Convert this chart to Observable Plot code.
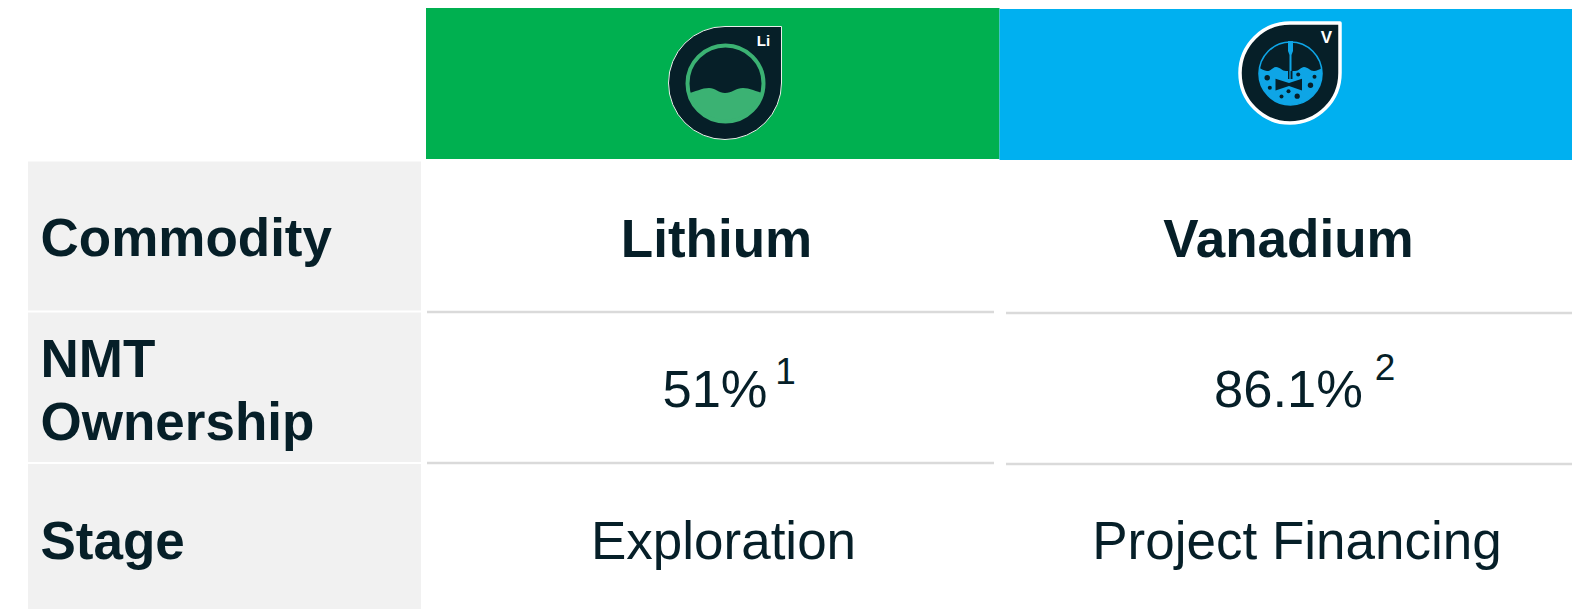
<!DOCTYPE html>
<html><head><meta charset="utf-8">
<script src="https://cdn.jsdelivr.net/npm/d3@7"></script>
<script src="https://cdn.jsdelivr.net/npm/@observablehq/plot@0.6"></script>
<style>html,body{margin:0;padding:0;background:#fff;overflow:hidden}svg{display:block}</style>
</head><body><div id="chart"></div>
<script>
// Table content
const commodities = ["Lithium", "Vanadium"];
const symbols = ["Li", "V"];
const rowLabels = ["Commodity", "NMT\nOwnership", "Stage"];
const ownership = ["51%", "86.1%"];
const footnotes = ["1", "2"];
const stages = ["Exploration", "Project Financing"];

// Layout (reference pixels, used as the domain of the x and y scales)
const W = 1572, H = 609;
const rowBands = [[161.5, 310.5], [312.5, 462], [464, 609]];
const headerBands = [{x1: 426, x2: 999.5, y1: 8, y2: 159, fill: "#00b050"}, {x1: 999.5, x2: 1572, y1: 9, y2: 160, fill: "#00b0f0"}];
const rules = [
  {x1: 427, x2: 994, y: 311.5}, {x1: 427, x2: 994, y: 462.5},
  {x1: 1006, x2: 1572, y: 312.5}, {x1: 1006, x2: 1572, y: 463.5}
];
const ink = "#061f28";
const font = "Liberation Sans, Arial, sans-serif";

const iconLi = `<svg xmlns="http://www.w3.org/2000/svg" viewBox="0 0 120 120">
<path d="M3.5 60 A56.5 56.5 0 0 1 60 3.5 H116.5 V60 A56.5 56.5 0 0 1 3.5 60 Z" fill="${ink}" stroke="#e8efe9" stroke-width="1"/>
<clipPath id="c"><circle cx="60.5" cy="60.5" r="38"/></clipPath>
<path clip-path="url(#c)" d="M18 72 C28 70 36 65 44 65 C50 65 54 70 60 70 C67 70 71 65 78 65 C86 65 94 70 104 72 V104 H18 Z" fill="#3bb273"/>
<circle cx="60.5" cy="60.5" r="38" fill="none" stroke="#3bb273" stroke-width="4"/>
</svg>`;
const iconV = `<svg xmlns="http://www.w3.org/2000/svg" viewBox="0 0 120 120">
<path d="M10 60 A50 50 0 0 1 60 10 H110 V60 A50 50 0 0 1 10 60 Z" fill="${ink}" stroke="#fff" stroke-width="3.5" stroke-linejoin="round"/>
<clipPath id="d"><circle cx="60.5" cy="60.5" r="31.5"/></clipPath>
<circle cx="60.5" cy="60.5" r="31.5" fill="none" stroke="#0ea5e6" stroke-width="1.6"/>
<path clip-path="url(#d)" d="M26 55 C30 54 33 58 37 58 C41 58 43 54 46 54 C50 54 52 58 56 58 L65 58 C69 58 71 54 74 54 C78 54 80 58 84 58 C88 58 90 55 96 55 V96 H26 Z" fill="#0ea5e6"/>
<path d="M58 28 H63 V38 L61.5 42 V60 H59.5 V42 L58 38 Z" fill="#0ea5e6"/>
<rect x="58" y="58" width="4.5" height="8" fill="${ink}"/>
<path d="M60 58 V66" stroke="#0ea5e6" stroke-width="1.2"/>
<path d="M45.5 65.8 L59 70 L72 65.8 V77.5 L59 73 L45.5 77.5 Z" fill="${ink}"/>
<g fill="${ink}">
<circle cx="37.2" cy="64.8" r="2.7"/><circle cx="39.8" cy="74.8" r="2"/><circle cx="51.5" cy="83.5" r="2"/><circle cx="58.5" cy="78.2" r="2"/>
<circle cx="67.2" cy="83.2" r="2.6"/><circle cx="68.2" cy="61.5" r="2"/><circle cx="84.5" cy="63.8" r="2"/><circle cx="80.5" cy="72.2" r="2.7"/>
</g>
</svg>`;
const uri = s => "data:image/svg+xml;base64," + btoa(s);

const labelRows = rowLabels.map((label, i) => ({label, y1: rowBands[i][0], y2: rowBands[i][1]}));

const textOpts = {fill: ink, fontFamily: font, lineAnchor: "middle"};

const plot = Plot.plot({
  width: W, height: H,
  margin: 0,
  x: {domain: [0, W], range: [0, W], axis: null},
  y: {domain: [0, H], range: [0, H], axis: null},
  style: {background: "#fff"},
  marks: [
    Plot.rect(headerBands, {x1: "x1", x2: "x2", y1: "y1", y2: "y2", fill: "fill"}),
    Plot.rect(labelRows, {x1: () => 28, x2: () => 421, y1: "y1", y2: "y2", fill: "#f1f1f1"}),
    Plot.ruleY(rules, {x1: "x1", x2: "x2", y: "y", stroke: "#dadada", strokeWidth: 2.6}),
    Plot.image([{s: iconLi, x: 724.5, y: 82.5, w: 120}], {x: "x", y: "y", width: "w", height: "w", src: d => uri(d.s)}),
    Plot.image([{s: iconV, x: 1289.5, y: 72.5, w: 120}], {x: "x", y: "y", width: "w", height: "w", src: d => uri(d.s)}),
    Plot.text([symbols[0]], {x: [763], y: [41], text: d => d, fill: "#fff", fontFamily: font, fontWeight: "bold", fontSize: 15}),
    Plot.text([symbols[1]], {x: [1326], y: [37], text: d => d, fill: "#fff", fontFamily: font, fontWeight: "bold", fontSize: 17}),
    Plot.text(rowLabels, {x: () => 40, y: [235.5, 388, 538], text: d => d, textAnchor: "start", fontWeight: "bold", fontSize: 53, lineHeight: 1.18, ...textOpts}),
    Plot.text(commodities, {x: [716, 1288], y: [239.5, 239.5], text: d => d, fontWeight: "bold", fontSize: 53, ...textOpts}),
    Plot.text(ownership, {x: [714.5, 1288], y: [390, 390], text: d => d, fontSize: 52.5, ...textOpts}),
    Plot.text(footnotes, {x: [785, 1384.5], y: [371.5, 367.5], text: d => d, fontSize: 37, ...textOpts}),
    Plot.text(stages, {x: [723, 1296.5], y: [542, 542], text: d => d, fontSize: 53, ...textOpts})
  ]
});
document.getElementById("chart").appendChild(plot);
</script></body></html>
